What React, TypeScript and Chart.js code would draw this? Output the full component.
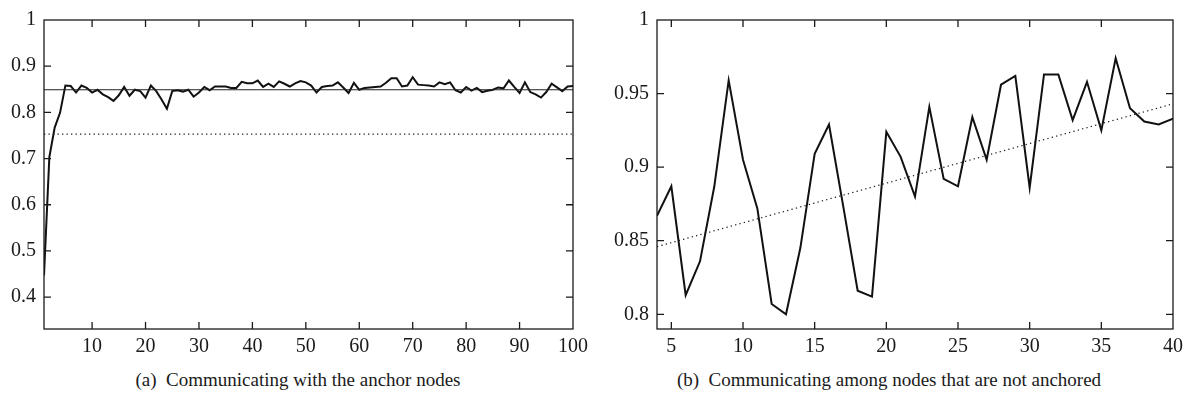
import React, { useEffect, useRef } from "react";
import { Chart, registerables } from "chart.js";

Chart.register(...registerables);

// ---------- Panel (a): communicating with the anchor nodes ----------
const anchorValues = [
  0.447, 0.703, 0.767, 0.799, 0.858, 0.857, 0.843, 0.858, 0.853, 0.843,
  0.849, 0.839, 0.833, 0.825, 0.837, 0.855, 0.836, 0.849, 0.846, 0.832,
  0.858, 0.846, 0.828, 0.808, 0.846, 0.848, 0.845, 0.849, 0.834, 0.843,
  0.855, 0.848, 0.856, 0.856, 0.856, 0.853, 0.853, 0.866, 0.863, 0.863,
  0.869, 0.855, 0.862, 0.855, 0.867, 0.862, 0.856, 0.863, 0.868, 0.865,
  0.858, 0.843, 0.855, 0.857, 0.858, 0.865, 0.854, 0.842, 0.864, 0.849,
  0.853, 0.854, 0.855, 0.856, 0.864, 0.874, 0.874, 0.856, 0.858, 0.876,
  0.860, 0.859, 0.858, 0.856, 0.865, 0.861, 0.865, 0.848, 0.843, 0.855,
  0.847, 0.853, 0.844, 0.847, 0.849, 0.854, 0.852, 0.869, 0.855, 0.842,
  0.865, 0.844, 0.839, 0.832, 0.844, 0.862, 0.854, 0.846, 0.856, 0.857,
];
const anchorMean = 0.849;
const anchorBaseline = 0.753;
const anchorXRange = [1, 100];
const anchorYRange = [0.331, 1];
const anchorXTicks = [10, 20, 30, 40, 50, 60, 70, 80, 90, 100];
const anchorYTicks = [0.4, 0.5, 0.6, 0.7, 0.8, 0.9, 1];
const anchorCaption = "(a)\u2002Communicating with the anchor nodes";

// ---------- Panel (b): communicating among non-anchored nodes ----------
const nodeStart = 4;
const nodeValues = [
  0.867, 0.887, 0.813, 0.836, 0.887, 0.959, 0.905, 0.872, 0.807, 0.800,
  0.845, 0.909, 0.929, 0.873, 0.816, 0.812, 0.924, 0.907, 0.880, 0.941,
  0.892, 0.887, 0.934, 0.905, 0.956, 0.962, 0.886, 0.963, 0.963, 0.932,
  0.958, 0.925, 0.974, 0.940, 0.931, 0.929, 0.933,
];
const nodeTrendX = [4, 40];
const nodeTrendY = [0.846, 0.943];
const nodeXRange = [4, 40];
const nodeYRange = [0.79, 1];
const nodeXTicks = [5, 10, 15, 20, 25, 30, 35, 40];
const nodeYTicks = [0.8, 0.85, 0.9, 0.95, 1];
const nodeCaption = "(b)\u2002Communicating among nodes that are not anchored";

const TICK_FONT = "Liberation Serif";
const CAPTION_FONT = "'Liberation Serif', serif";
const INK = "#1a1a1a";

const framePlugin = {
  id: "frameTicks",
  afterDraw(chart: any) {
    const { ctx, chartArea: a, scales } = chart;
    const L = 7;
    ctx.save();
    ctx.strokeStyle = INK;
    ctx.lineWidth = 1.3;
    ctx.strokeRect(a.left, a.top, a.right - a.left, a.bottom - a.top);
    ctx.beginPath();
    for (const t of scales.x.ticks) {
      const px = scales.x.getPixelForValue(t.value);
      if (px <= a.left + 1 || px >= a.right - 1) continue;
      ctx.moveTo(px, a.bottom);
      ctx.lineTo(px, a.bottom - L);
      ctx.moveTo(px, a.top);
      ctx.lineTo(px, a.top + L);
    }
    for (const t of scales.y.ticks) {
      const py = scales.y.getPixelForValue(t.value);
      if (py <= a.top + 1 || py >= a.bottom - 1) continue;
      ctx.moveTo(a.left, py);
      ctx.lineTo(a.left + L, py);
      ctx.moveTo(a.right, py);
      ctx.lineTo(a.right - L, py);
    }
    ctx.stroke();
    ctx.restore();
  },
};

function fmt(v: number) {
  return String(parseFloat(v.toFixed(2)));
}

function makeOptions(
  xRange: number[],
  yRange: number[],
  xTicks: number[],
  yTicks: number[],
  yWidth: number,
  padRight: number
): any {
  return {
    responsive: false,
    animation: false,
    devicePixelRatio: 1,
    font: { family: TICK_FONT },
    layout: { padding: { top: 13, right: padRight, left: 0, bottom: 0 } },
    plugins: { legend: { display: false }, tooltip: { enabled: false } },
    elements: { point: { radius: 0 } },
    scales: {
      x: {
        type: "linear",
        min: xRange[0],
        max: xRange[1],
        grid: { display: false, drawTicks: false },
        border: { display: false },
        afterBuildTicks: (s: any) => {
          s.ticks = xTicks.map((v) => ({ value: v }));
        },
        afterFit: (s: any) => {
          s.height = 31;
        },
        ticks: {
          padding: 6,
          color: INK,
          font: { family: TICK_FONT, size: 20 },
          maxRotation: 0,
          autoSkip: false,
          callback: (v: any) => fmt(Number(v)),
        },
      },
      y: {
        type: "linear",
        min: yRange[0],
        max: yRange[1],
        grid: { display: false, drawTicks: false },
        border: { display: false },
        afterBuildTicks: (s: any) => {
          s.ticks = yTicks.map((v) => ({ value: v }));
        },
        afterFit: (s: any) => {
          s.width = yWidth;
        },
        ticks: {
          padding: 8,
          color: INK,
          font: { family: TICK_FONT, size: 20 },
          autoSkip: false,
          callback: (v: any) => fmt(Number(v)),
        },
      },
    },
  };
}

function useChart(ref: React.MutableRefObject<HTMLCanvasElement | null>, build: (c: HTMLCanvasElement) => Chart) {
  useEffect(() => {
    let chart: Chart | null = null;
    let cancelled = false;
    const make = () => {
      if (cancelled || !ref.current) return;
      chart = build(ref.current);
    };
    const fonts: any = (document as any).fonts;
    if (fonts && fonts.load) {
      fonts.load("20px 'Liberation Serif'").then(make, make);
    } else {
      make();
    }
    return () => {
      cancelled = true;
      if (chart) chart.destroy();
    };
  }, []);
}

function AnchorChart() {
  const ref = useRef<HTMLCanvasElement | null>(null);
  useChart(ref, (c) => {
    const pts = anchorValues.map((v, i) => ({ x: i + 1, y: v }));
    return new Chart(c, {
      type: "line",
      data: {
        datasets: [
          {
            data: anchorXRange.map((x) => ({ x, y: anchorBaseline })),
            borderColor: INK,
            borderWidth: 1.2,
            borderDash: [1.3, 3.2],
            pointRadius: 0,
          },
          {
            data: anchorXRange.map((x) => ({ x, y: anchorMean })),
            borderColor: "#222",
            borderWidth: 1.1,
            pointRadius: 0,
          },
          {
            data: pts,
            borderColor: "#111",
            borderWidth: 2,
            pointRadius: 0,
            tension: 0,
          },
        ],
      },
      options: makeOptions(anchorXRange, anchorYRange, anchorXTicks, anchorYTicks, 44, 27),
      plugins: [framePlugin],
    } as any);
  });
  return <canvas ref={ref} width={600} height={360} style={{ position: "absolute", left: 0, top: 0 }} />;
}

function NodeChart() {
  const ref = useRef<HTMLCanvasElement | null>(null);
  useChart(ref, (c) => {
    const pts = nodeValues.map((v, i) => ({ x: nodeStart + i, y: v }));
    return new Chart(c, {
      type: "line",
      data: {
        datasets: [
          {
            data: nodeTrendX.map((x, i) => ({ x, y: nodeTrendY[i] })),
            borderColor: INK,
            borderWidth: 1.2,
            borderDash: [1.3, 3.2],
            pointRadius: 0,
          },
          {
            data: pts,
            borderColor: "#111",
            borderWidth: 2,
            pointRadius: 0,
            tension: 0,
          },
        ],
      },
      options: makeOptions(nodeXRange, nodeYRange, nodeXTicks, nodeYTicks, 57, 16),
      plugins: [framePlugin],
    } as any);
  });
  return <canvas ref={ref} width={589} height={360} style={{ position: "absolute", left: 600, top: 0 }} />;
}

const captionStyle: React.CSSProperties = {
  position: "absolute",
  top: 369,
  fontFamily: CAPTION_FONT,
  fontSize: 19,
  color: INK,
  whiteSpace: "nowrap",
  transform: "translateX(-50%)",
  lineHeight: "22px",
};

export default function App() {
  return (
    <div style={{ position: "absolute", left: 0, top: 0, width: 1189, height: 397, background: "#fff", overflow: "hidden" }}>
      <AnchorChart />
      <NodeChart />
      <div style={{ ...captionStyle, left: 298 }}>{anchorCaption}</div>
      <div style={{ ...captionStyle, left: 889 }}>{nodeCaption}</div>
    </div>
  );
}
